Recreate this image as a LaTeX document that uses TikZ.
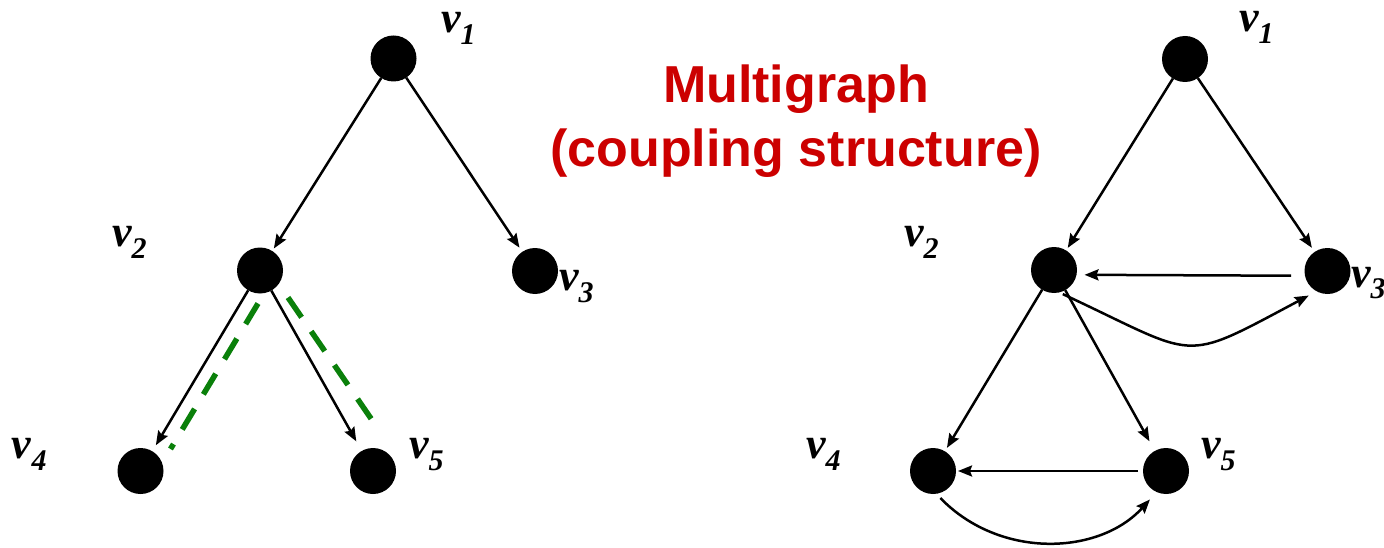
\documentclass[tikz,border=0pt]{standalone}
\usepackage{fontspec}
\setmainfont{Liberation Serif}
\newfontfamily\titlefont{Liberation Sans}
\usetikzlibrary{arrows.meta,calc}
\definecolor{titlered}{HTML}{CC0000}
\definecolor{dashgreen}{HTML}{0A800A}
\newcommand{\vlab}[1]{{\fontsize{44}{44}\selectfont\bfseries\itshape v}\raisebox{-12pt}{\fontsize{30}{30}\selectfont\bfseries\itshape #1}}
\tikzset{
  vert/.style={circle, fill=black, minimum size=46pt, inner sep=0pt, outer sep=0pt},
  lab/.style={inner sep=0pt, outer sep=0pt, anchor=base west},
  edge/.style={line width=2.5pt, -{Stealth[length=14pt,width=11pt,inset=2pt]}, shorten >=5pt},
  greendash/.style={line width=5.5pt, dashgreen, dash pattern=on 24pt off 17pt},
  titlestyle/.style={font=\titlefont\bfseries\fontsize{52}{52}\selectfont, text=titlered, anchor=base, inner sep=0pt}
}
\begin{document}
\begin{tikzpicture}[x=1pt,y=-1pt]
\useasboundingbox (0,0) rectangle (1384,548);
% left graph
\node[vert] (v1L) at (393.5,58.5) {};
\node[vert] (v2L) at (260,270.5) {};
\node[vert] (v3L) at (535,271) {};
\node[vert] (v4L) at (140.5,471) {};
\node[vert] (v5L) at (373,471) {};
\node[lab] (l1L) at (441,33) {\vlab{1}};
\node[lab] (l2L) at (112,247) {\vlab{2}};
\node[lab] (l3L) at (559,290) {\vlab{3}};
\node[lab] (l4L) at (12,458) {\vlab{4}};
\node[lab] (l5L) at (409,458) {\vlab{5}};
\draw[edge, shorten >=3pt] (v1L) -- (v2L);
\draw[edge] (v1L) -- (v3L);
\draw[edge, shorten >=7pt] (v2L) -- (v4L);
\draw[edge, shorten >=11pt] (v2L) -- (v5L);
\draw[greendash] ([shift={(-2,33)}]v2L.center) -- ([shift={(30,-22)}]v4L.center);
\draw[greendash] ([shift={(28,27)}]v2L.center) -- ([shift={(-1,-51)}]v5L.center);
% title
\node[titlestyle] (t1) at (796,103) {Multigraph};
\node[titlestyle] (t2) at (796,167) {(coupling structure)};
% right graph
\node[vert] (v1R) at (1185,59) {};
\node[vert] (v2R) at (1054,270) {};
\node[vert] (v3R) at (1327.5,271) {};
\node[vert] (v4R) at (933,471) {};
\node[vert] (v5R) at (1166,471) {};
\node[lab] (l1R) at (1239,32) {\vlab{1}};
\node[lab] (l2R) at (904,247) {\vlab{2}};
\node[lab] (l3R) at (1351,287) {\vlab{3}};
\node[lab] (l4R) at (806,458) {\vlab{4}};
\node[lab] (l5R) at (1201,458) {\vlab{5}};
\draw[edge, shorten >=3pt] (v1R) -- (v2R);
\draw[edge] (v1R) -- (v3R);
\draw[edge, shorten >=4pt] (v2R) -- (v4R);
\draw[edge, shorten >=11pt] (v2R) -- (v5R);
\draw[edge, shorten <=14pt, shorten >=8pt] (v3R.-168) -- (v2R.-12);
\draw[edge, shorten <=5pt, shorten >=2pt] (v5R) -- (v4R);
\draw[edge, shorten <=4pt, shorten >=9pt] (v2R.-77) to[out=-25,in=208,looseness=1.55] (v3R.-118);
\draw[edge, shorten <=6pt, shorten >=10pt] (v4R.-82) .. controls +(64,66) and +(-57,63) .. (v5R.-114);
\end{tikzpicture}
\end{document}
